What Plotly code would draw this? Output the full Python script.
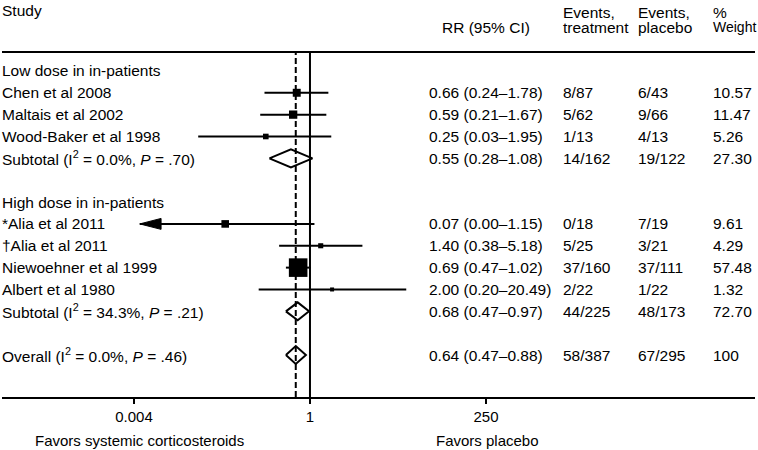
import math
import plotly.graph_objects as go

FONT = "Liberation Sans, Arial, Helvetica, sans-serif"
FS = 15.5

# ---------------- data ----------------
studies = ["Chen et al 2008", "Maltais et al 2002", "Wood-Baker et al 1998",
           "*Alia et al 2011", "†Alia et al 2011", "Niewoehner et al 1999", "Albert et al 1980"]
study_group = [0, 0, 0, 1, 1, 1, 1]
rr = [0.66, 0.59, 0.25, 0.07, 1.40, 0.69, 2.00]
ci_low = [0.24, 0.21, 0.03, 0.00, 0.38, 0.47, 0.20]
ci_high = [1.78, 1.67, 1.95, 1.15, 5.18, 1.02, 20.49]
events_trt = ["8/87", "5/62", "1/13", "0/18", "5/25", "37/160", "2/22"]
events_plc = ["6/43", "9/66", "4/13", "7/19", "3/21", "37/111", "1/22"]
weights = [10.57, 11.47, 5.26, 9.61, 4.29, 57.48, 1.32]

groups = ["Low dose in in-patients", "High dose in in-patients"]
sub_labels = ["Subtotal (I<sup>2</sup> = 0.0%, <i>P</i> = .70)",
              "Subtotal (I<sup>2</sup> = 34.3%, <i>P</i> = .21)"]
sub_rr = [0.55, 0.68]
sub_low = [0.28, 0.47]
sub_high = [1.08, 0.97]
sub_trt = ["14/162", "44/225"]
sub_plc = ["19/122", "48/173"]
sub_weight = ["27.30", "72.70"]

overall_label = "Overall (I<sup>2</sup> = 0.0%, <i>P</i> = .46)"
overall_rr = 0.64
overall_low = 0.47
overall_high = 0.88
overall_trt = "58/387"
overall_plc = "67/295"
overall_weight = "100"

tick_vals = [0.004, 1, 250]
tick_text = ["0.004", "1", "250"]
favors_left = "Favors systemic corticosteroids"
favors_right = "Favors placebo"
headers = ["Study", "RR (95% CI)", "Events,", "treatment", "Events,", "placebo", "%", "Weight"]

# ---------------- layout constants ----------------
W, H = 758, 450
ML, MR, MT, MB = 2, 3, 53, 53
PLOT_W = W - ML - MR
PLOT_H = H - MT - MB
X_RANGE = [-4.196, 6.063]          # log10 range
Y_RANGE = [14.92, -0.82]           # row units (reversed)
DISPLAY_MIN = 0.0048               # arrow tip when CI runs off the left


def px(p):
    return (p - ML) / PLOT_W


def py(p):
    return (H - MB - p) / PLOT_H


COL_STUDY = px(0)
COL_RR = px(427)
COL_RR_HDR = px(486)
COL_TRT = px(561)
COL_PLC = px(636)
COL_WT = px(711)
HDR_Y1 = py(12)
HDR_Y2 = py(27.5)
STUDY_Y = py(10)
FAVORS_Y = py(440)

# ---------------- row assignment ----------------
study_rows = [None] * len(studies)
group_rows, sub_rows = [], []
r = 0
for g in range(len(groups)):
    group_rows.append(r)
    r += 1
    for i in range(len(studies)):
        if study_group[i] == g:
            study_rows[i] = r
            r += 1
    sub_rows.append(r)
    r += 2
overall_row = r

fig = go.Figure()

# diamonds (subtotals + overall)
DH = 0.41
dx, dy = [], []
for lo, est, hi, row in list(zip(sub_low, sub_rr, sub_high, sub_rows)) + [(overall_low, overall_rr, overall_high, overall_row)]:
    dx += [lo, est, hi, est, lo, None]
    dy += [row, row - DH, row, row + DH, row, None]
fig.add_trace(go.Scatter(x=dx, y=dy, mode="lines", line=dict(color="black", width=2),
                         hoverinfo="skip", showlegend=False))

# CI lines
cx, cy = [], []
arrows = []
for i in range(len(studies)):
    lo = ci_low[i]
    if lo < DISPLAY_MIN:
        arrows.append((DISPLAY_MIN, study_rows[i]))
        lo = DISPLAY_MIN
    cx += [lo, ci_high[i], None]
    cy += [study_rows[i], study_rows[i], None]
fig.add_trace(go.Scatter(x=cx, y=cy, mode="lines", line=dict(color="black", width=2),
                         hoverinfo="skip", showlegend=False))

# arrow heads for CIs running off the scale
AL = 10 ** 0.29
AH = 0.25
for tip, row in arrows:
    fig.add_trace(go.Scatter(x=[tip, tip * AL, tip * AL, tip], y=[row, row - AH, row + AH, row],
                             mode="lines", fill="toself", fillcolor="black",
                             line=dict(color="black", width=1), hoverinfo="skip", showlegend=False))

# weight squares
fig.add_trace(go.Scatter(x=rr, y=study_rows, mode="markers",
                         marker=dict(symbol="square", color="black", opacity=1,
                                     size=[max(4, 2.45 * math.sqrt(w)) for w in weights],
                                     line=dict(width=0)),
                         hoverinfo="skip", showlegend=False))

# null line and overall effect line
fig.add_trace(go.Scatter(x=[1, 1], y=Y_RANGE, mode="lines", line=dict(color="black", width=2),
                         hoverinfo="skip", showlegend=False))
fig.add_trace(go.Scatter(x=[overall_rr, overall_rr], y=Y_RANGE, mode="lines",
                         line=dict(color="black", width=2, dash="6px,3px"),
                         hoverinfo="skip", showlegend=False))

# ---------------- text ----------------
ann = []


def text(x, y, s, xanchor="left", xref="paper", yref="y", size=FS):
    ann.append(dict(x=x, y=y, xref=xref, yref=yref, text=s, showarrow=False,
                    xanchor=xanchor, yanchor="middle",
                    font=dict(family=FONT, size=size, color="black")))


text(COL_STUDY, STUDY_Y, headers[0], yref="paper")
text(COL_RR_HDR, HDR_Y2, headers[1], xanchor="center", yref="paper")
text(COL_TRT, HDR_Y1, headers[2], yref="paper")
text(COL_TRT, HDR_Y2, headers[3], yref="paper")
text(COL_PLC, HDR_Y1, headers[4], yref="paper")
text(COL_PLC, HDR_Y2, headers[5], yref="paper")
text(COL_WT, HDR_Y1, headers[6], yref="paper")
text(COL_WT, HDR_Y2, headers[7], yref="paper", size=14)

for g in range(len(groups)):
    text(COL_STUDY, group_rows[g], groups[g])
    row = sub_rows[g]
    text(COL_STUDY, row, sub_labels[g])
    text(COL_RR, row, f"{sub_rr[g]:.2f} ({sub_low[g]:.2f}–{sub_high[g]:.2f})")
    text(COL_TRT, row, sub_trt[g])
    text(COL_PLC, row, sub_plc[g])
    text(COL_WT, row, sub_weight[g])

for i in range(len(studies)):
    row = study_rows[i]
    text(COL_STUDY, row, studies[i])
    text(COL_RR, row, f"{rr[i]:.2f} ({ci_low[i]:.2f}–{ci_high[i]:.2f})")
    text(COL_TRT, row, events_trt[i])
    text(COL_PLC, row, events_plc[i])
    text(COL_WT, row, f"{weights[i]:.2f}")

text(COL_STUDY, overall_row, overall_label)
text(COL_RR, overall_row, f"{overall_rr:.2f} ({overall_low:.2f}–{overall_high:.2f})")
text(COL_TRT, overall_row, overall_trt)
text(COL_PLC, overall_row, overall_plc)
text(COL_WT, overall_row, overall_weight)

ann.append(dict(x=math.log10(tick_vals[0]), y=FAVORS_Y, xref="x", yref="paper", xshift=6,
                text=favors_left, showarrow=False, xanchor="center", yanchor="middle",
                font=dict(family=FONT, size=15, color="black")))
ann.append(dict(x=math.log10(tick_vals[-1]), y=FAVORS_Y, xref="x", yref="paper", xshift=2,
                text=favors_right, showarrow=False, xanchor="center", yanchor="middle",
                font=dict(family=FONT, size=15, color="black")))

fig.update_layout(
    width=W, height=H,
    margin=dict(l=ML, r=MR, t=MT, b=MB),
    paper_bgcolor="white", plot_bgcolor="white",
    showlegend=False,
    annotations=ann,
    xaxis=dict(type="log", range=X_RANGE, showgrid=False, zeroline=False,
               showline=True, linecolor="black", linewidth=2, mirror=True,
               ticks="outside", ticklen=5, tickwidth=2, tickcolor="black",
               tickvals=tick_vals, ticktext=tick_text,
               tickfont=dict(family=FONT, size=15, color="black")),
    yaxis=dict(range=Y_RANGE, visible=False, showgrid=False, zeroline=False),
)

fig.write_html("out.html", config={"displayModeBar": False},
               post_script="document.body.style.margin='0';")
